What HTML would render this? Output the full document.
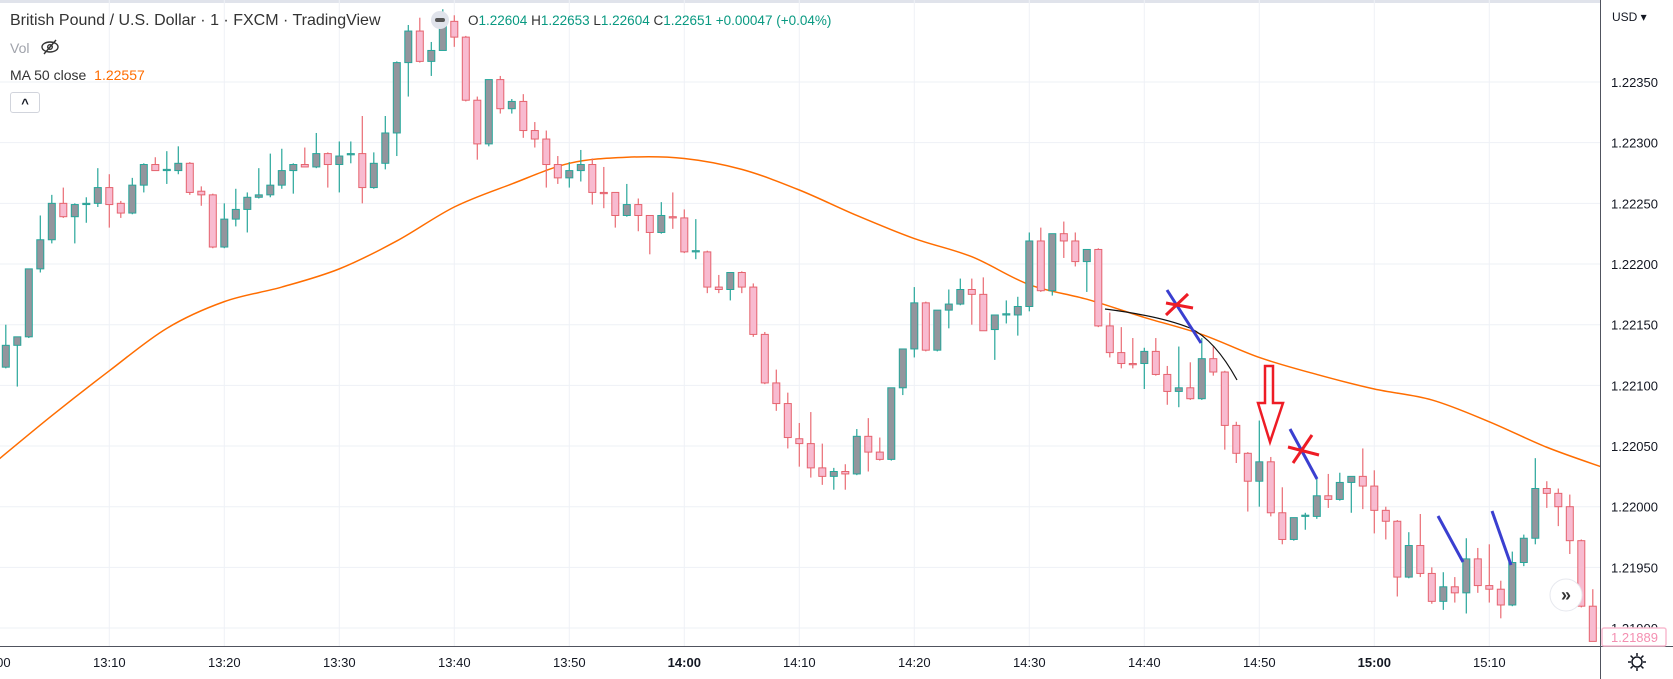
<!DOCTYPE html>
<html><head><meta charset="utf-8">
<style>
html,body{margin:0;padding:0;background:#fff;}
body{width:1673px;height:679px;overflow:hidden;position:relative;font-family:"Liberation Sans",sans-serif;}
svg{position:absolute;left:0;top:0;}
.hdr{position:absolute;white-space:nowrap;}
</style></head>
<body>
<svg id="chart" width="1673" height="679" viewBox="0 0 1673 679" xmlns="http://www.w3.org/2000/svg">
  <rect x="0" y="0" width="1673" height="3" fill="#e0e3eb"/>
  <g id="grid"></g>
  <g id="ma"></g>
  <g id="candles"></g>
  <g id="drawings">
    <path d="M1105,309 Q1160,316 1190,328 Q1215,340 1237,380" fill="none" stroke="#111" stroke-width="1.2"/>
    <line x1="1167" y1="290" x2="1201" y2="343" stroke="#3a3fd0" stroke-width="3"/>
    <line x1="1166" y1="315" x2="1188" y2="294" stroke="#ee1c25" stroke-width="3"/>
    <line x1="1166" y1="303" x2="1193" y2="308" stroke="#ee1c25" stroke-width="3"/>
    <polygon points="1265,366 1273,366 1273,403 1283,403 1270,442 1258,403 1265,403" fill="none" stroke="#ee1c25" stroke-width="2.5"/>
    <line x1="1290" y1="429" x2="1317" y2="479" stroke="#3a3fd0" stroke-width="3"/>
    <line x1="1293" y1="463" x2="1312" y2="435" stroke="#ee1c25" stroke-width="3"/>
    <line x1="1288" y1="447" x2="1319" y2="455" stroke="#ee1c25" stroke-width="3"/>
    <line x1="1438" y1="516" x2="1463" y2="562" stroke="#3a3fd0" stroke-width="3"/>
    <line x1="1492" y1="511" x2="1511" y2="565" stroke="#3a3fd0" stroke-width="3"/>
  </g>
  <rect x="1601" y="0" width="72" height="679" fill="#fff"/>
  <rect x="0" y="647" width="1673" height="32" fill="#fff"/>
  <line x1="1600.5" y1="0" x2="1600.5" y2="679" stroke="#50535e" stroke-width="1"/>
  <line x1="0" y1="646.5" x2="1673" y2="646.5" stroke="#50535e" stroke-width="1"/>
  <g id="yaxis"></g>
  <g id="xaxis"></g>
  <text x="1612" y="21" font-size="12" fill="#131722">USD ▾</text>
  <rect x="1602" y="628" width="64" height="18" fill="#fff" stroke="#f8bbd0" stroke-width="1.5" rx="2"/>
  <text x="1611" y="642" font-size="13" fill="#f48fb1">1.21889</text>
  <g>
    <circle cx="1566" cy="595" r="16" fill="#fff" stroke="#e6e8ee" stroke-width="1"/>
    <text x="1566" y="601" font-size="18" font-weight="bold" fill="#333" text-anchor="middle">»</text>
  </g>
  <g transform="translate(1637,662)" fill="none" stroke="#131722" stroke-width="1.5">
    <circle r="5"/>
    <line x1="0" y1="-9" x2="0" y2="-6"/><line x1="0" y1="6" x2="0" y2="9"/>
    <line x1="-9" y1="0" x2="-6" y2="0"/><line x1="6" y1="0" x2="9" y2="0"/>
    <line x1="-6.4" y1="-6.4" x2="-4.2" y2="-4.2"/><line x1="4.2" y1="4.2" x2="6.4" y2="6.4"/>
    <line x1="-6.4" y1="6.4" x2="-4.2" y2="4.2"/><line x1="4.2" y1="-4.2" x2="6.4" y2="-6.4"/>
  </g>
</svg>

<div class="hdr" style="left:10px;top:12px;font-size:16px;color:#333;">British Pound / U.S. Dollar · 1 · FXCM · TradingView</div>
<div class="hdr" style="left:431px;top:11px;width:18px;height:18px;border-radius:9px;background:#e0e3eb;"><div style="position:absolute;left:4px;top:7px;width:10px;height:4px;border-radius:2px;background:#555;"></div></div>
<div class="hdr" style="left:468px;top:13px;font-size:13.5px;color:#089981;"><span style="color:#333">O</span>1.22604 <span style="color:#333">H</span>1.22653 <span style="color:#333">L</span>1.22604 <span style="color:#333">C</span>1.22651 +0.00047 (+0.04%)</div>
<div class="hdr" style="left:10px;top:40px;font-size:14px;color:#a0a3ab;">Vol</div>
<svg style="left:40px;top:38px;" width="20" height="18" viewBox="0 0 20 18"><ellipse cx="10" cy="9" rx="8" ry="5" fill="none" stroke="#333" stroke-width="1.4"/><circle cx="10" cy="9" r="2.3" fill="none" stroke="#333" stroke-width="1.4"/><line x1="4" y1="16" x2="16" y2="2" stroke="#333" stroke-width="1.4"/></svg>
<div class="hdr" style="left:10px;top:67px;font-size:14px;color:#333;">MA 50 close <span style="color:#ff6d00;margin-left:4px">1.22557</span></div>
<div class="hdr" style="left:10px;top:92px;width:30px;height:21px;border:1px solid #d1d4dc;border-radius:3px;box-sizing:border-box;text-align:center;font-size:13px;line-height:21px;color:#131722;font-weight:bold;">^</div>

<script>
const startMinute = 1;
const openP = [1.22115,1.22133,1.22140,1.22196,1.22220,1.22250,1.22239,1.22250,1.22250,1.22263,1.22250,1.22242,1.22265,1.22282,1.22277,1.22277,1.22283,1.22260,1.22257,1.22214,1.22237,1.22245,1.22255,1.22257,1.22265,1.22277,1.22282,1.22280,1.22291,1.22282,1.22290,1.22291,1.22263,1.22283,1.22308,1.22366,1.22392,1.22367,1.22376,1.22400,1.22387,1.22335,1.22299,1.22352,1.22328,1.22334,1.22310,1.22303,1.22282,1.22271,1.22277,1.22282,1.22259,1.22259,1.22240,1.22249,1.22240,1.22226,1.22239,1.22238,1.22210,1.22210,1.22181,1.22179,1.22193,1.22181,1.22142,1.22102,1.22085,1.22056,1.22052,1.22032,1.22025,1.22029,1.22027,1.22058,1.22045,1.22039,1.22098,1.22130,1.22168,1.22129,1.22162,1.22167,1.22179,1.22175,1.22146,1.22158,1.22158,1.22165,1.22219,1.22178,1.22225,1.22219,1.22202,1.22212,1.22149,1.22127,1.22118,1.22118,1.22128,1.22109,1.22095,1.22098,1.22089,1.22122,1.22111,1.22067,1.22044,1.22021,1.22037,1.21995,1.21973,1.21992,1.21992,1.22009,1.22006,1.22020,1.22025,1.22017,1.21997,1.21988,1.21942,1.21968,1.21945,1.21922,1.21934,1.21929,1.21957,1.21935,1.21932,1.21919,1.21954,1.21974,1.22015,1.22011,1.22000,1.21972,1.21918];
const highP = [1.22150,1.22140,1.22196,1.22240,1.22257,1.22263,1.22250,1.22255,1.22279,1.22274,1.22252,1.22271,1.22283,1.22288,1.22293,1.22297,1.22284,1.22264,1.22258,1.22250,1.22262,1.22259,1.22279,1.22291,1.22295,1.22283,1.22296,1.22308,1.22292,1.22301,1.22301,1.22322,1.22292,1.22322,1.22367,1.22397,1.22403,1.22383,1.22410,1.22405,1.22388,1.22338,1.22352,1.22355,1.22336,1.22340,1.22317,1.22310,1.22289,1.22284,1.22294,1.22287,1.22280,1.22259,1.22266,1.22254,1.22240,1.22251,1.22259,1.22245,1.22237,1.22211,1.22191,1.22193,1.22194,1.22184,1.22144,1.22113,1.22094,1.22069,1.22078,1.22052,1.22032,1.22035,1.22064,1.22073,1.22057,1.22098,1.22130,1.22181,1.22169,1.22162,1.22179,1.22188,1.22188,1.22189,1.22158,1.22170,1.22173,1.22226,1.22230,1.22225,1.22235,1.22226,1.22212,1.22213,1.22160,1.22148,1.22139,1.22131,1.22139,1.22116,1.22132,1.22119,1.22139,1.22132,1.22112,1.22070,1.22045,1.22071,1.22041,1.22016,1.21991,1.21995,1.22024,1.22027,1.22028,1.22025,1.22048,1.22030,1.22000,1.21989,1.21979,1.21994,1.21950,1.21946,1.21942,1.21974,1.21966,1.21969,1.21939,1.21963,1.21977,1.22040,1.22021,1.22015,1.22010,1.21973,1.21932];
const lowP = [1.22114,1.22099,1.22139,1.22193,1.22217,1.22238,1.22217,1.22234,1.22247,1.22230,1.22238,1.22241,1.22259,1.22277,1.22266,1.22274,1.22257,1.22248,1.22213,1.22213,1.22231,1.22226,1.22254,1.22255,1.22262,1.22258,1.22280,1.22279,1.22263,1.22259,1.22283,1.22250,1.22262,1.22278,1.22289,1.22338,1.22366,1.22355,1.22376,1.22379,1.22334,1.22286,1.22297,1.22324,1.22324,1.22304,1.22296,1.22263,1.22266,1.22263,1.22268,1.22249,1.22246,1.22230,1.22239,1.22227,1.22208,1.22225,1.22229,1.22209,1.22204,1.22176,1.22176,1.22170,1.22176,1.22140,1.22101,1.22079,1.22048,1.22033,1.22024,1.22018,1.22014,1.22014,1.22026,1.22029,1.22038,1.22038,1.22092,1.22123,1.22128,1.22128,1.22147,1.22166,1.22150,1.22146,1.22121,1.22151,1.22141,1.22161,1.22177,1.22174,1.22205,1.22198,1.22177,1.22148,1.22123,1.22114,1.22114,1.22097,1.22108,1.22084,1.22082,1.22088,1.22088,1.22108,1.22047,1.22036,1.21996,1.22000,1.21992,1.21969,1.21972,1.21981,1.21990,1.21999,1.22005,1.21995,1.21998,1.21978,1.21973,1.21926,1.21941,1.21942,1.21920,1.21915,1.21921,1.21912,1.21929,1.21921,1.21908,1.21918,1.21951,1.21969,1.21999,1.21984,1.21961,1.21917,1.21889];
const closeP = [1.22133,1.22140,1.22196,1.22220,1.22250,1.22239,1.22249,1.22250,1.22263,1.22249,1.22242,1.22265,1.22282,1.22277,1.22278,1.22283,1.22259,1.22257,1.22214,1.22237,1.22245,1.22255,1.22257,1.22265,1.22277,1.22282,1.22280,1.22291,1.22282,1.22289,1.22291,1.22263,1.22283,1.22308,1.22366,1.22392,1.22367,1.22376,1.22399,1.22387,1.22335,1.22299,1.22352,1.22328,1.22334,1.22310,1.22303,1.22282,1.22271,1.22277,1.22282,1.22259,1.22258,1.22240,1.22249,1.22240,1.22226,1.22240,1.22238,1.22210,1.22211,1.22181,1.22179,1.22193,1.22181,1.22142,1.22102,1.22085,1.22057,1.22052,1.22032,1.22025,1.22029,1.22027,1.22058,1.22045,1.22039,1.22098,1.22130,1.22168,1.22129,1.22162,1.22167,1.22179,1.22175,1.22145,1.22158,1.22159,1.22165,1.22219,1.22178,1.22225,1.22219,1.22202,1.22212,1.22149,1.22127,1.22118,1.22117,1.22128,1.22109,1.22095,1.22098,1.22089,1.22122,1.22111,1.22067,1.22044,1.22021,1.22037,1.21995,1.21973,1.21991,1.21993,1.22009,1.22006,1.22020,1.22025,1.22017,1.21997,1.21988,1.21942,1.21968,1.21945,1.21922,1.21934,1.21929,1.21957,1.21935,1.21932,1.21919,1.21954,1.21974,1.22015,1.22011,1.22000,1.21972,1.21918,1.21889];
const maMinutes = [0,5,10,15,20,25,30,35,40,45,50,55,60,65,70,75,80,85,90,95,100,105,110,115,120,125,130,135,140];
const maValues = [1.22036,1.22075,1.22112,1.22147,1.22169,1.22181,1.22196,1.22219,1.22247,1.22266,1.22283,1.22288,1.22287,1.22278,1.22261,1.22240,1.22221,1.22206,1.22183,1.22171,1.22156,1.22142,1.22123,1.22109,1.22097,1.22088,1.22070,1.22049,1.22032];
const priceTicks = [1.22350,1.22300,1.22250,1.22200,1.22150,1.22100,1.22050,1.22000,1.21950,1.21900];
const timeLabels = ["13:00","13:10","13:20","13:30","13:40","13:50","14:00","14:10","14:20","14:30","14:40","14:50","15:00","15:10"];
const boldLabels = ["14:00","15:00"];

const NS = "http://www.w3.org/2000/svg";
function xOf(min){ return -5.7 + 11.5*min; }
function yOf(p){ return 506.7 - (p - 1.22) * 121340; }
function mk(tag, attrs, parent){ const e = document.createElementNS(NS, tag); for (const k in attrs) e.setAttribute(k, attrs[k]); parent.appendChild(e); return e; }

const grid = document.getElementById('grid');
priceTicks.forEach(p => {
  const l = mk('line', {x1:0, x2:1600, y1:yOf(p), y2:yOf(p), stroke:'#eef1f6', 'stroke-width':1}, grid);
  
  
});
timeLabels.forEach((t, k) => {
  const x = xOf(k*10);
  const l = mk('line', {x1:x, x2:x, y1:0, y2:647, stroke:'#eef1f6', 'stroke-width':1}, grid);
  
  
});

const yaxis = document.getElementById('yaxis');
priceTicks.forEach(p => {
  const t = mk('text', {x:1611, y:yOf(p)+5, 'font-size':13, fill:'#131722'}, yaxis);
  t.textContent = p.toFixed(5);
  
  
});
const xaxis = document.getElementById('xaxis');
timeLabels.forEach((lab, k) => {
  const t = mk('text', {x:xOf(k*10), y:667, 'font-size':13, fill:'#131722', 'text-anchor':'middle', 'font-weight': boldLabels.includes(lab) ? 'bold' : 'normal'}, xaxis);
  t.textContent = lab;
  
  
});

const pts = maMinutes.map((m,i) => [xOf(m), yOf(maValues[i])]);
let d = 'M' + pts[0][0] + ',' + pts[0][1];
for (let i = 0; i < pts.length-1; i++){
  const p0 = pts[Math.max(0,i-1)], p1 = pts[i], p2 = pts[i+1], p3 = pts[Math.min(pts.length-1,i+2)];
  const c1 = [p1[0]+(p2[0]-p0[0])/6, p1[1]+(p2[1]-p0[1])/6];
  const c2 = [p2[0]-(p3[0]-p1[0])/6, p2[1]-(p3[1]-p1[1])/6];
  d += ' C' + c1.join(',') + ' ' + c2.join(',') + ' ' + p2.join(',');
}
const maPath = mk('path', {d:d, fill:'none', stroke:'#ff6d00', 'stroke-width':1.5}, document.getElementById('ma'));



const cg = document.getElementById('candles');
openP.forEach((o, i) => {
  const c = closeP[i], h = highP[i], l = lowP[i];
  const x = xOf(startMinute + i);
  const up = c >= o;
  const g = mk('g', {}, cg);
  
  
  mk('line', {x1:x, x2:x, y1:yOf(h), y2:yOf(l), stroke: up ? '#26a69a' : '#ea6b73', 'stroke-width':1.2}, g);
  const top = yOf(Math.max(o,c)), bot = yOf(Math.min(o,c));
  mk('rect', {x:x-3.5, y:top, width:7, height:Math.max(1.2, bot-top), fill: up ? '#93959d' : '#f8bbd0', stroke: up ? '#26a69a' : '#e5636e', 'stroke-width':1}, g);
});
</script>
</body></html>
